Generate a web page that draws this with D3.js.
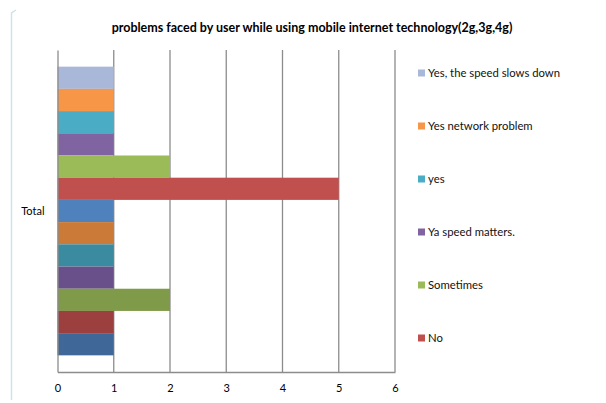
<!DOCTYPE html>
<html>
<head>
<meta charset="utf-8">
<script src="https://cdn.jsdelivr.net/npm/d3@7"></script>
<style>
  html, body { margin: 0; padding: 0; background: #fff; }
  svg { display: block; font-family: Lato, "Open Sans", sans-serif; }
</style>
</head>
<body>
<svg id="chart" width="606" height="403"></svg>
<script>
// Chart content
const titleText = "problems faced by user while using mobile internet technology(2g,3g,4g)";
const categories = ["Total"];
// Bar values, listed top to bottom within the "Total" group
const seriesValues = [1, 1, 1, 1, 2, 5, 1, 1, 1, 1, 2, 1, 1];
const seriesColors = ["#A9B8D9", "#F79646", "#4BACC6", "#8064A2", "#9BBB59", "#C0504D",
                      "#4F81BD", "#CB7A38", "#3A8B9F", "#69508A", "#7F9A48", "#9C403F", "#3F6898"];
// Legend entries shown (top six series)
const legendLabels = ["Yes, the speed slows down", "Yes network problem", "yes",
                      "Ya speed matters.", "Sometimes", "No"];
const legendColors = ["#A9B8D9", "#F79646", "#4BACC6", "#8064A2", "#9BBB59", "#C0504D"];
const xTicks = [0, 1, 2, 3, 4, 5, 6];

const svg = d3.select("#chart");

// page edge on the left
svg.append("path")
  .attr("d", "M11.5,400 L11.5,13 L16,10")
  .attr("fill", "none")
  .attr("stroke", "#cfe2ea")
  .attr("stroke-width", 1.5);

const plot = { left: 57.5, right: 395, top: 50, bottom: 372 };

const x = d3.scaleLinear().domain([0, 6]).range([plot.left, plot.right]);

const gapWidth = 1.5; // gap between groups as a fraction of bar thickness
const y0 = d3.scaleBand().domain(categories).range([plot.top, plot.bottom])
  .paddingInner(0).paddingOuter(gapWidth / 2 / seriesValues.length);
const y1 = d3.scaleBand().domain(d3.range(seriesValues.length)).range([0, y0.bandwidth()]);

// title
svg.append("text")
  .attr("x", 312).attr("y", 32)
  .attr("text-anchor", "middle")
  .attr("font-size", 12.5)
  .attr("font-weight", "bold")
  .attr("fill", "#000")
  .text(titleText);

// vertical gridlines
svg.append("g")
  .selectAll("line")
  .data(xTicks.slice(1))
  .join("line")
  .attr("x1", d => x(d)).attr("x2", d => x(d))
  .attr("y1", plot.top).attr("y2", plot.bottom)
  .attr("stroke", "#8c8c8c")
  .attr("stroke-width", 1.3);

// bars
const group = svg.append("g")
  .selectAll("g")
  .data(categories)
  .join("g")
  .attr("transform", d => `translate(0,${y0(d)})`);

group.selectAll("rect")
  .data(seriesValues.map((v, i) => ({ v, i })))
  .join("rect")
  .attr("x", x(0))
  .attr("y", d => y1(d.i))
  .attr("width", d => x(d.v) - x(0))
  .attr("height", y1.bandwidth())
  .attr("fill", d => seriesColors[d.i]);

// axes
const xAxis = d3.axisBottom(x).tickValues(xTicks).tickFormat(d3.format("d"))
  .tickSize(0).tickPadding(12);
const gx = svg.append("g")
  .attr("transform", `translate(0,${plot.bottom})`)
  .call(xAxis);
gx.select(".domain").attr("stroke", "#8c8c8c").attr("stroke-width", 1.3);
gx.selectAll("text").attr("font-size", 11).attr("fill", "#000")
  .attr("font-family", "Lato, sans-serif");

const yAxis = d3.axisLeft(y0).tickSize(0).tickPadding(13);
const gy = svg.append("g")
  .attr("transform", `translate(${plot.left},0)`)
  .call(yAxis);
gy.select(".domain").attr("stroke", "#8c8c8c").attr("stroke-width", 1.3);
gy.selectAll("text").attr("font-size", 11).attr("fill", "#000")
  .attr("font-family", "Lato, sans-serif");

// legend
const legend = svg.append("g")
  .selectAll("g")
  .data(legendLabels)
  .join("g")
  .attr("transform", (d, i) => `translate(418,${73 + i * 53})`);

legend.append("rect")
  .attr("x", 0).attr("y", -3.5)
  .attr("width", 7).attr("height", 7)
  .attr("fill", (d, i) => legendColors[i]);

legend.append("text")
  .attr("x", 10).attr("y", 0)
  .attr("dy", "0.35em")
  .attr("font-size", 11.3)
  .attr("fill", "#111")
  .text(d => d);
</script>
</body>
</html>
